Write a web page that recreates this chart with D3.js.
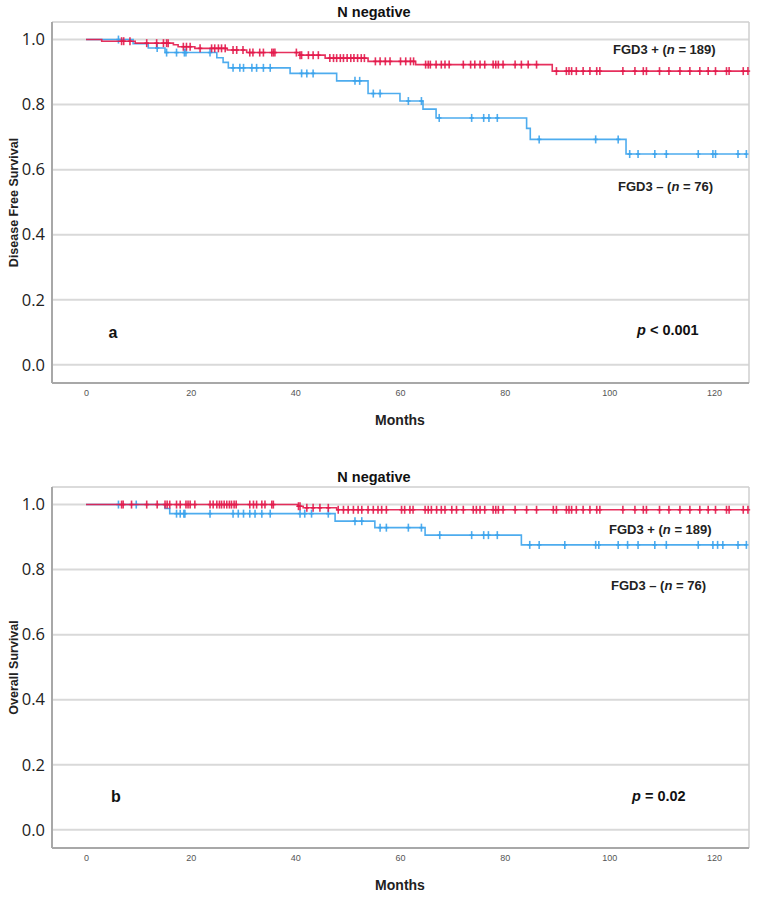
<!DOCTYPE html>
<html><head><meta charset="utf-8">
<script src="https://cdn.jsdelivr.net/npm/d3@7"></script>
<style>body{margin:0;background:#fff}svg{display:block}</style>
</head><body>
<svg id="c" width="757" height="898"></svg>
<script>
// ---------- DATA ----------
const monthTicks = [0, 20, 40, 60, 80, 100, 120];
const survTicks = [0, 0.2, 0.4, 0.6, 0.8, 1.0];
const panelTitles = ["N negative", "N negative"];
const yLabels = ["Disease Free Survival", "Overall Survival"];
const panelLetters = ["a", "b"];
const pValues = ["< 0.001", "= 0.02"];
const groupNames = ["FGD3 +", "FGD3 \u2013"];
const groupN = ["189", "76"];

// Disease free survival, FGD3+ (event times, survival after event)
const dfsPosTimes = [3.0, 9.4, 16.7, 17.6, 20.8, 27.0, 30.7, 40.8, 45.7, 53.9, 63.0, 89.1];
const dfsPosSurv  = [0.995, 0.989, 0.984, 0.978, 0.973, 0.968, 0.960, 0.952, 0.943, 0.933, 0.923, 0.903];
const dfsPosCensor = [6.8, 7.2, 8.4, 11.6, 13.5, 14.8, 15.4, 15.7, 18.6, 19.2, 19.9, 21.8, 24.0, 24.6, 25.3, 25.9, 26.6,
  28.1, 28.8, 30.0, 31.3, 31.9, 33.2, 33.9, 35.5, 35.8, 36.1, 40.2, 40.9, 41.2, 42.5, 43.4, 44.4, 46.6, 47.3, 47.9, 48.6,
  49.2, 49.9, 50.6, 51.2, 51.9, 52.6, 53.2, 55.3, 56.2, 57.2, 58.1, 60.1, 61.1, 62.0, 62.6, 64.9, 65.4, 65.8, 66.9, 67.9,
  68.6, 69.4, 72.1, 73.5, 74.3, 75.3, 76.2, 77.8, 78.3, 78.8, 79.7, 82.0, 83.2, 84.5, 86.1, 89.9, 91.8, 92.3, 92.8, 93.7,
  95.0, 96.3, 97.6, 98.2, 102.6, 104.9, 106.5, 107.1, 109.6, 111.4, 113.5, 115.4, 117.3, 118.9, 120.3, 122.4, 122.9,
  125.6, 126.5];

// Disease free survival, FGD3-
const dfsNegTimes = [9.0, 11.9, 15.1, 25.0, 26.2, 27.2, 39.0, 47.9, 53.9, 60.0, 64.4, 66.9, 84.2, 84.9, 103.2];
const dfsNegSurv  = [0.987, 0.974, 0.960, 0.944, 0.930, 0.913, 0.896, 0.873, 0.834, 0.811, 0.786, 0.759, 0.727, 0.693, 0.648];
const dfsNegCensor = [6.2, 13.6, 15.4, 17.3, 18.8, 19.1, 23.7, 28.1, 29.4, 30.1, 31.7, 32.6, 33.9, 35.2, 41.2, 42.2,
  43.4, 51.4, 52.3, 54.9, 56.2, 61.6, 64.1, 67.5, 73.7, 76.0, 77.0, 78.6, 86.6, 97.4, 101.7, 103.9, 105.5, 108.7,
  110.9, 117.0, 119.8, 120.3, 124.6, 126.2];

// Overall survival, FGD3+
const osPosTimes = [40.5, 41.5, 47.9];
const osPosSurv  = [0.995, 0.990, 0.984];
const osPosCensor = [6.8, 7.1, 8.7, 11.6, 13.6, 15.1, 15.5, 16.0, 17.3, 18.0, 19.1, 19.5, 19.9, 20.8, 23.7, 24.3,
  25.0, 25.5, 25.9, 26.4, 26.9, 27.4, 27.8, 28.3, 28.7, 31.3, 32.0, 32.6, 33.6, 34.2, 35.5, 35.8, 40.6, 40.9, 42.2,
  43.4, 44.7, 46.3, 48.2, 49.2, 50.1, 51.1, 52.0, 52.7, 53.9, 54.9, 55.8, 56.5, 57.4, 60.3, 60.9, 61.9, 62.5, 64.8,
  65.4, 66.0, 67.0, 67.9, 68.6, 69.9, 70.8, 72.1, 74.0, 74.6, 75.3, 76.2, 77.8, 78.3, 78.8, 79.7, 82.0, 84.2, 86.1,
  89.3, 89.9, 91.8, 92.3, 92.8, 93.7, 95.0, 96.3, 97.6, 98.2, 102.6, 104.9, 106.5, 107.1, 109.6, 111.4, 113.5,
  115.4, 117.3, 118.9, 120.3, 122.4, 122.9, 125.6, 126.5];

// Overall survival, FGD3-
const osNegTimes = [15.1, 16.0, 47.6, 55.2, 64.8, 83.2];
const osNegSurv  = [0.988, 0.972, 0.949, 0.929, 0.906, 0.876];
const osNegCensor = [6.2, 9.6, 17.3, 18.0, 18.7, 18.9, 23.7, 28.1, 29.1, 30.1, 31.3, 32.3, 33.6, 35.2, 40.9, 41.8,
  43.1, 46.3, 51.4, 52.7, 56.2, 57.4, 61.6, 64.1, 67.6, 73.7, 76.0, 76.9, 78.6, 84.8, 86.6, 91.5, 97.4, 98.0, 101.7,
  103.5, 105.5, 108.7, 110.9, 117.0, 119.8, 120.7, 121.7, 124.6, 126.2];

const panels = [
  {top: 22, pos: [dfsPosTimes, dfsPosSurv, dfsPosCensor], neg: [dfsNegTimes, dfsNegSurv, dfsNegCensor],
   legPos: [613, 49], legNeg: [618, 186], letter: [113, 332], p: [637, 330], titleY: 17},
  {top: 487, pos: [osPosTimes, osPosSurv, osPosCensor], neg: [osNegTimes, osNegSurv, osNegCensor],
   legPos: [609, 529], legNeg: [611, 585], letter: [116, 796], p: [632, 796], titleY: 482}
];

// ---------- DRAW ----------
const svg = d3.select("#c");
const red = "#e3194b", blue = "#3ba3ec";
const boxL = 52, boxR = 749, boxH = 361;
const x = d3.scaleLinear().domain([-6.5, 126.7]).range([boxL, boxR]);
const font = "'Liberation Sans', Arial, sans-serif";

panels.forEach((pn, i) => {
  const y = d3.scaleLinear().domain([-0.056, 1.054]).range([pn.top + boxH, pn.top]);
  const g = svg.append("g");

  // title
  g.append("text").attr("x", 374).attr("y", pn.titleY).attr("text-anchor", "middle")
    .attr("font-family", font).attr("font-weight", "bold").attr("font-size", 14.5).attr("fill", "#111")
    .text(panelTitles[i]);

  // gridlines
  g.selectAll(".grid").data(survTicks).join("line")
    .attr("x1", boxL).attr("x2", boxR).attr("y1", d => y(d)).attr("y2", d => y(d))
    .attr("stroke", "#d9d9d9").attr("stroke-width", 2);

  // box
  g.append("line").attr("x1", boxL).attr("x2", boxR).attr("y1", pn.top).attr("y2", pn.top)
    .attr("stroke", "#cfcfcf").attr("stroke-width", 1.5);
  g.append("line").attr("x1", boxR).attr("x2", boxR).attr("y1", pn.top).attr("y2", pn.top + boxH)
    .attr("stroke", "#cfcfcf").attr("stroke-width", 1.5);
  g.append("line").attr("x1", boxL).attr("x2", boxL).attr("y1", pn.top).attr("y2", pn.top + boxH)
    .attr("stroke", "#a8a8a8").attr("stroke-width", 2);
  g.append("line").attr("x1", boxL).attr("x2", boxR).attr("y1", pn.top + boxH).attr("y2", pn.top + boxH)
    .attr("stroke", "#a8a8a8").attr("stroke-width", 2);

  // y tick labels
  const yAxis = d3.axisLeft(y).tickValues(survTicks).tickFormat(d3.format(".1f")).tickSize(0).tickPadding(7);
  const ya = g.append("g").attr("transform", `translate(${boxL},0)`).call(yAxis);
  ya.select(".domain").remove();
  ya.selectAll("text").attr("font-family", "'Open Sans', sans-serif").attr("font-size", 16.5).attr("fill", "#222");

  // x tick labels
  const xAxis = d3.axisBottom(x).tickValues(monthTicks).tickFormat(d3.format("d")).tickSize(0).tickPadding(7);
  const xa = g.append("g").attr("transform", `translate(0,${pn.top + boxH})`).call(xAxis);
  xa.select(".domain").remove();
  xa.selectAll("text").attr("font-family", font).attr("font-size", 9).attr("fill", "#555");

  // axis titles
  g.append("text").attr("x", 400).attr("y", pn.top + boxH + 42).attr("text-anchor", "middle")
    .attr("font-family", font).attr("font-weight", "bold").attr("font-size", 14).attr("fill", "#222")
    .text("Months");
  g.append("text").attr("transform", `translate(18,${pn.top + boxH / 2}) rotate(-90)`).attr("text-anchor", "middle")
    .attr("font-family", font).attr("font-weight", "bold").attr("font-size", 12.5).attr("fill", "#222")
    .text(yLabels[i]);

  // curves
  const drawGroup = ([times, surv, cens], color) => {
    const end = d3.max(cens.concat(times));
    const pts = [[0, 1]].concat(times.map((t, k) => [t, surv[k]]));
    pts.push([end, surv[surv.length - 1]]);
    const line = d3.line().x(d => x(d[0])).y(d => y(d[1])).curve(d3.curveStepAfter);
    g.append("path").attr("d", line(pts)).attr("fill", "none").attr("stroke", color)
      .attr("stroke-width", 1.6).attr("stroke-opacity", 0.9);
    const sAt = t => { let s = 1; times.forEach((tt, k) => { if (tt <= t) s = surv[k]; }); return s; };
    const cg = g.append("g").attr("stroke", color).attr("stroke-width", 1.6).attr("stroke-opacity", 0.9);
    cens.forEach(t => {
      const cx = x(t), cy = y(sAt(t));
      cg.append("line").attr("x1", cx).attr("x2", cx).attr("y1", cy - 4).attr("y2", cy + 4);
      cg.append("line").attr("x1", cx - 2.2).attr("x2", cx + 2.2).attr("y1", cy).attr("y2", cy);
    });
  };
  drawGroup(pn.neg, blue);
  drawGroup(pn.pos, red);

  // legend labels
  const leg = (pos, k) => {
    const t = g.append("text").attr("x", pos[0]).attr("y", pos[1] + 4.5)
      .attr("font-family", font).attr("font-weight", "bold").attr("font-size", 13).attr("fill", "#222");
    t.append("tspan").text(groupNames[k] + " (");
    t.append("tspan").attr("font-style", "italic").text("n");
    t.append("tspan").text(" = " + groupN[k] + ")");
  };
  leg(pn.legPos, 0);
  leg(pn.legNeg, 1);

  // panel letter and p-value
  g.append("text").attr("x", pn.letter[0]).attr("y", pn.letter[1] + 5.5).attr("text-anchor", "middle")
    .attr("font-family", font).attr("font-weight", "bold").attr("font-size", 16).attr("fill", "#111")
    .text(panelLetters[i]);
  const pt = g.append("text").attr("x", pn.p[0]).attr("y", pn.p[1] + 5)
    .attr("font-family", font).attr("font-weight", "bold").attr("font-size", 14.5).attr("fill", "#111");
  pt.append("tspan").attr("font-style", "italic").text("p");
  pt.append("tspan").text(" " + pValues[i]);
});
</script>
</body></html>
